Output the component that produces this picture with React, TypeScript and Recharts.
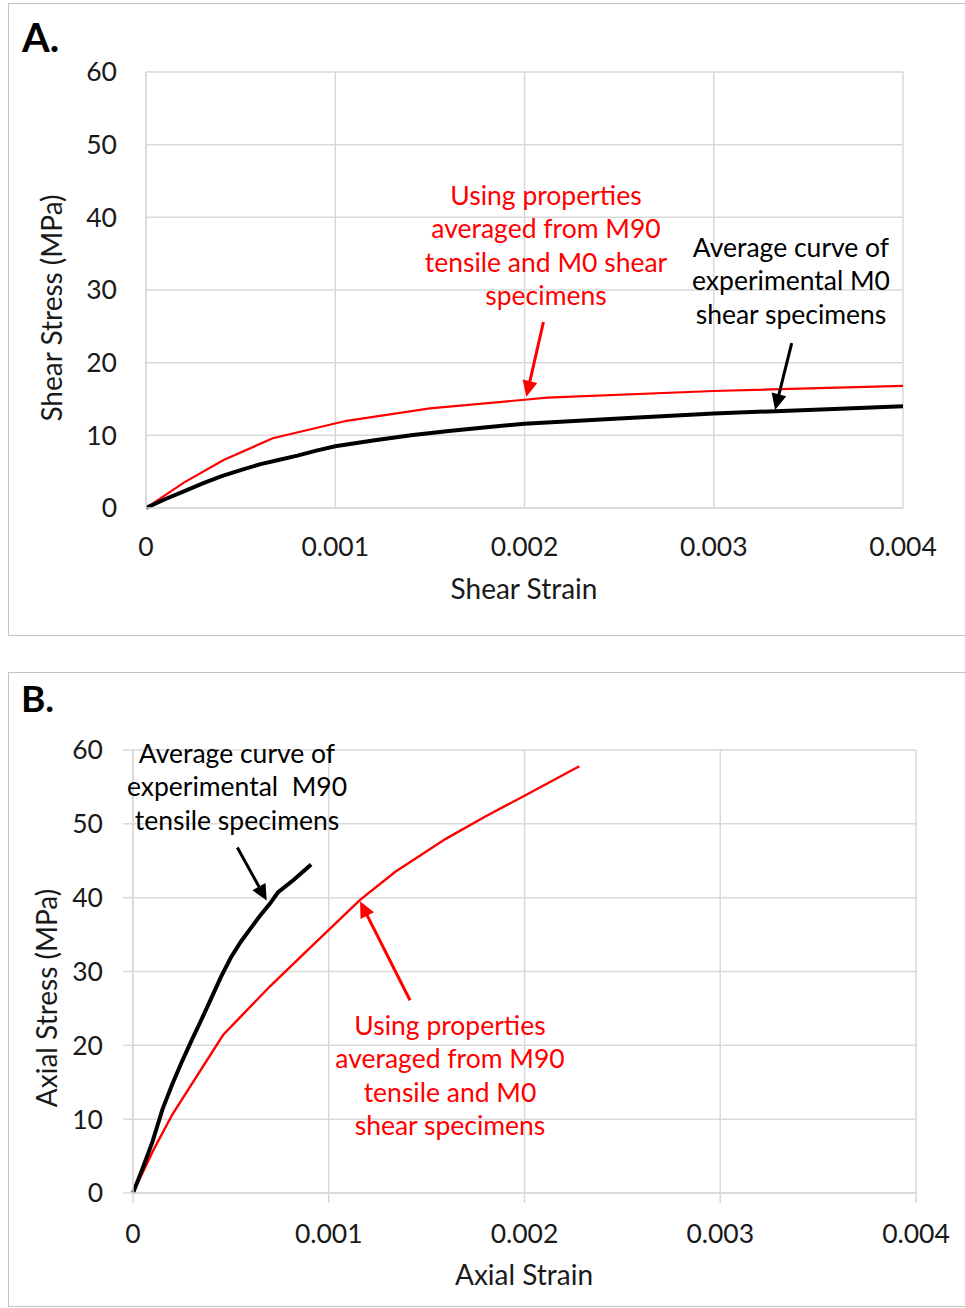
import React from 'react';
import { LineChart, Line, XAxis, YAxis, CartesianGrid, ReferenceLine } from 'recharts';

// ---------- Tick labels ----------
const strainTicks = [0, 0.001, 0.002, 0.003, 0.004];
const stressTicks = [0, 10, 20, 30, 40, 50, 60];

// ---------- Panel A: shear ----------
const shearExpStrain = [0, 0.0001, 0.0002, 0.0003, 0.0004, 0.0005, 0.0006, 0.0007, 0.0008, 0.0009, 0.001, 0.0012, 0.0014, 0.0016, 0.0018, 0.002, 0.0025, 0.003, 0.0035, 0.004];
const shearExpStress = [0, 1.2, 2.3, 3.4, 4.4, 5.2, 6.0, 6.6, 7.2, 7.9, 8.5, 9.3, 10.0, 10.6, 11.1, 11.6, 12.3, 13.0, 13.5, 14.0];

const shearModelStrain = [0, 0.0002, 0.00041, 0.00067, 0.00106, 0.0015, 0.002, 0.00212, 0.003, 0.004];
const shearModelStress = [0, 3.5, 6.6, 9.6, 12.0, 13.7, 14.9, 15.2, 16.1, 16.8];

// ---------- Panel B: axial ----------
const axialExpStrain = [0, 0.00005, 0.0001, 0.00015, 0.0002, 0.00025, 0.0003, 0.00035, 0.0004, 0.00045, 0.0005, 0.00055, 0.0006, 0.00065, 0.0007, 0.00074, 0.00082, 0.00091];
const axialExpStress = [0, 3.4, 7.0, 11.3, 14.7, 17.8, 20.7, 23.5, 26.4, 29.3, 31.9, 34.0, 35.8, 37.6, 39.2, 40.7, 42.4, 44.5];

const axialModelStrain = [0, 0.0001, 0.0002, 0.00046, 0.0007, 0.0009, 0.00116, 0.00134, 0.0016, 0.0018, 0.002, 0.00228];
const axialModelStress = [0, 5.6, 10.6, 21.4, 28.0, 33.1, 39.7, 43.5, 48.0, 51.0, 53.8, 57.8];

// ---------- Annotation arrows (data coordinates: [strain, stress]) ----------
const arrowA_model = [[0.0021, 25.6], [0.00201, 15.3]];
const arrowA_exp = [[0.003412, 22.7], [0.003324, 13.5]];
const arrowB_exp = [[0.000533, 46.8], [0.000683, 39.6]];
const arrowB_model = [[0.001415, 26.1], [0.00116, 39.5]];

const zip = (xs: number[], ys: number[]) => xs.map((x, i) => ({ x, y: ys[i] }));

const shearExp = zip(shearExpStrain, shearExpStress);
const shearModel = zip(shearModelStrain, shearModelStress);
const axialExp = zip(axialExpStrain, axialExpStress);
const axialModel = zip(axialModelStrain, axialModelStress);

const FONT = 'Lato, "Open Sans", sans-serif';
const GRID = '#d9d9d9';
const RED = '#ff0000';

const makeArrow = (color: string) => (p: any) => {
  const { x1, y1, x2, y2 } = p;
  const dx = x2 - x1;
  const dy = y2 - y1;
  const len = Math.sqrt(dx * dx + dy * dy) || 1;
  const ux = dx / len;
  const uy = dy / len;
  const headL = 16;
  const headW = 7.5;
  const bx = x2 - ux * headL;
  const by = y2 - uy * headL;
  const px = -uy;
  const py = ux;
  const pts = `${x2},${y2} ${bx + px * headW},${by + py * headW} ${bx - px * headW},${by - py * headW}`;
  return (
    <g>
      <line x1={x1} y1={y1} x2={bx + ux * 2} y2={by + uy * 2} stroke={color} strokeWidth={3} />
      <polygon points={pts} fill={color} />
    </g>
  );
};

const seg = (a: number[][]) => [{ x: a[0][0], y: a[0][1] }, { x: a[1][0], y: a[1][1] }];

const tickStyle = { fontSize: 26.5, fill: '#1a1a1a', fontFamily: FONT };

function PanelA() {
  return (
    <LineChart width={965} height={640} margin={{ top: 72, right: 62, left: 86, bottom: 102 }} style={{ fontFamily: FONT }}>
      <CartesianGrid stroke={GRID} strokeWidth={1.5} />
      <XAxis
        type="number"
        dataKey="x"
        domain={[0, 0.004]}
        ticks={strainTicks}
        height={30}
        tickSize={0}
        tickMargin={29}
        tickLine={false}
        axisLine={{ stroke: GRID, strokeWidth: 1.5 }}
        tick={tickStyle}
        allowDataOverflow
      />
      <YAxis
        type="number"
        domain={[0, 60]}
        ticks={stressTicks}
        width={60}
        tickSize={0}
        tickMargin={29}
        tickLine={false}
        axisLine={{ stroke: GRID, strokeWidth: 1.5 }}
        tick={tickStyle}
      />
      <Line data={shearModel} dataKey="y" stroke={RED} strokeWidth={2.2} dot={false} isAnimationActive={false} type="linear" />
      <Line data={shearExp} dataKey="y" stroke="#000" strokeWidth={4} dot={false} isAnimationActive={false} type="linear" />
      <ReferenceLine segment={seg(arrowA_model)} shape={makeArrow(RED)} />
      <ReferenceLine segment={seg(arrowA_exp)} shape={makeArrow('#000')} />
    </LineChart>
  );
}

function PanelB() {
  return (
    <LineChart width={965} height={650} margin={{ top: 90, right: 49, left: 73, bottom: 87 }} style={{ fontFamily: FONT }}>
      <CartesianGrid stroke={GRID} strokeWidth={1.5} />
      <XAxis
        type="number"
        dataKey="x"
        domain={[0, 0.004]}
        ticks={strainTicks}
        height={30}
        tickSize={10}
        tickMargin={21}
        tickLine={{ stroke: GRID, strokeWidth: 1.5 }}
        axisLine={{ stroke: GRID, strokeWidth: 1.5 }}
        tick={tickStyle}
      />
      <YAxis
        type="number"
        domain={[0, 60]}
        ticks={stressTicks}
        width={60}
        tickSize={10}
        tickMargin={20}
        tickLine={{ stroke: GRID, strokeWidth: 1.5 }}
        axisLine={{ stroke: GRID, strokeWidth: 1.5 }}
        tick={tickStyle}
      />
      <Line data={axialModel} dataKey="y" stroke={RED} strokeWidth={2.4} dot={false} isAnimationActive={false} type="linear" />
      <Line data={axialExp} dataKey="y" stroke="#000" strokeWidth={4} dot={false} isAnimationActive={false} type="linear" />
      <ReferenceLine segment={seg(arrowB_exp)} shape={makeArrow('#000')} />
      <ReferenceLine segment={seg(arrowB_model)} shape={makeArrow(RED)} />
    </LineChart>
  );
}

const annA_model = ['Using properties', 'averaged from M90', 'tensile and M0 shear', 'specimens'];
const annA_exp = ['Average curve of', 'experimental M0', 'shear specimens'];
const annB_exp = ['Average curve of', 'experimental\u00a0 M90', 'tensile specimens'];
const annB_model = ['Using properties', 'averaged from M90', 'tensile and M0', 'shear specimens'];

function Block({ lines, x, y, color }: { lines: string[]; x: number; y: number; color: string }) {
  return (
    <text x={x} y={y} textAnchor="middle" fill={color} fontSize={26.5} fontFamily={FONT}>
      {lines.map((l, i) => (
        <tspan key={i} x={x} y={y + i * 33.4}>
          {l}
        </tspan>
      ))}
    </text>
  );
}

export default function App() {
  return (
    <div style={{ position: 'absolute', left: 0, top: 0, width: 965, height: 1308, overflow: 'hidden', background: '#fff' }}>
      <div style={{ position: 'absolute', left: 8, top: 3, width: 990, height: 633, border: '1.5px solid #c4c4c4', boxSizing: 'border-box' }} />
      <div style={{ position: 'absolute', left: 8, top: 672, width: 990, height: 635, border: '1.5px solid #c4c4c4', boxSizing: 'border-box' }} />
      <div style={{ position: 'absolute', left: 0, top: 0 }}>
        <PanelA />
      </div>
      <div style={{ position: 'absolute', left: 0, top: 660 }}>
        <PanelB />
      </div>
      <svg width={965} height={1308} style={{ position: 'absolute', left: 0, top: 0, pointerEvents: 'none' }}>
        <text x={22} y={52} fontSize={40} fontWeight={700} fontFamily={FONT} fill="#000">A.</text>
        <text x={21} y={712} fontSize={37} fontWeight={700} fontFamily={FONT} fill="#000">B.</text>
        <text x={524} y={599} textAnchor="middle" fontSize={28} fontFamily={FONT} fill="#1a1a1a">Shear Strain</text>
        <text transform="translate(62,308) rotate(-90)" textAnchor="middle" fontSize={28} fontFamily={FONT} fill="#1a1a1a">Shear Stress (MPa)</text>
        <text x={524} y={1285} textAnchor="middle" fontSize={28} fontFamily={FONT} fill="#1a1a1a">Axial Strain</text>
        <text transform="translate(57,998) rotate(-90)" textAnchor="middle" fontSize={28} fontFamily={FONT} fill="#1a1a1a">Axial Stress (MPa)</text>
        <Block lines={annA_model} x={546} y={205} color={RED} />
        <Block lines={annA_exp} x={791} y={257} color="#000" />
        <Block lines={annB_exp} x={237} y={763} color="#000" />
        <Block lines={annB_model} x={450} y={1035} color={RED} />
      </svg>
    </div>
  );
}
